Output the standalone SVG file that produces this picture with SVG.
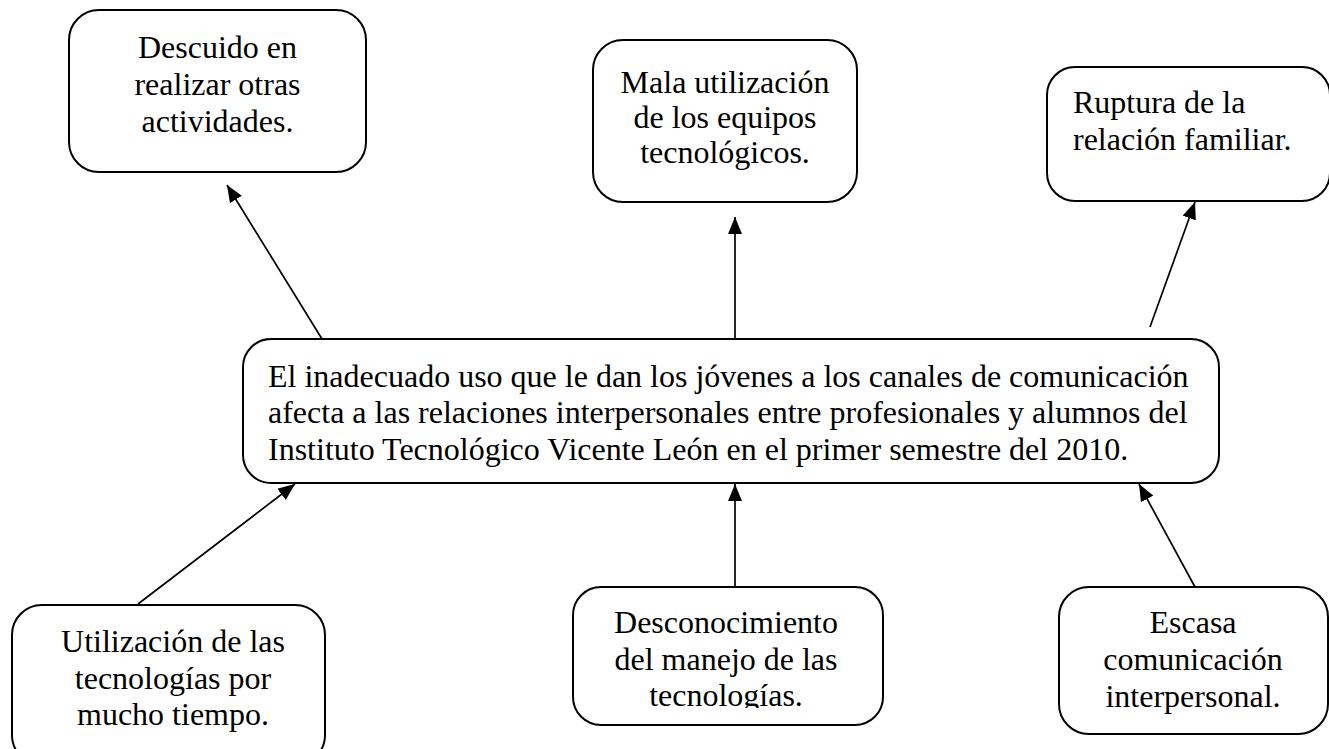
<svg xmlns="http://www.w3.org/2000/svg" width="1329" height="749" viewBox="0 0 1329 749">
<style>
.box{fill:#fff;stroke:#000;stroke-width:2}
.t{font-family:"Liberation Serif","Times New Roman",serif;font-size:32px;fill:#000}
.c{text-anchor:middle}
.con{stroke:#000;stroke-width:1.7;fill:none;marker-end:url(#ah)}
</style>
<defs>
<marker id="ah" viewBox="0 0 17 14" refX="17" refY="7" markerWidth="17" markerHeight="14" orient="auto" markerUnits="userSpaceOnUse">
<path d="M0,0 L17,7 L0,14 z" fill="#000"/>
</marker>
<clipPath id="clipD"><rect x="573" y="587" width="310" height="121"/></clipPath>
</defs>
<rect width="1329" height="749" fill="#fff"/>
<g id="connectors">
<line class="con" x1="322" y1="339" x2="227" y2="185"/>
<line class="con" x1="735" y1="339" x2="735" y2="217"/>
<line class="con" x1="1150" y1="327" x2="1195" y2="202"/>
<line class="con" x1="138" y1="604" x2="295" y2="484"/>
<line class="con" x1="735" y1="587" x2="735" y2="484"/>
<line class="con" x1="1195" y1="587" x2="1139" y2="484"/>
</g>
<g id="node-descuido">
<rect class="box" x="69" y="10" width="297" height="162" rx="30"/>
<text class="t c" x="217.5" y="58">Descuido en</text>
<text class="t c" x="217.5" y="95">realizar otras</text>
<text class="t c" x="217.5" y="132">actividades.</text>
</g>
<g id="node-mala">
<rect class="box" x="593" y="40" width="264" height="162" rx="30"/>
<text class="t c" x="725" y="93">Mala utilización</text>
<text class="t c" x="725" y="128">de los equipos</text>
<text class="t c" x="725" y="163">tecnológicos.</text>
</g>
<g id="node-ruptura">
<rect class="box" x="1047" y="67" width="283" height="134" rx="28"/>
<text class="t" x="1073" y="113">Ruptura de la</text>
<text class="t" x="1073" y="150">relación familiar.</text>
</g>
<g id="node-central">
<rect class="box" x="243" y="339" width="976" height="144" rx="28"/>
<text class="t" x="268" y="386.5">El inadecuado uso que le dan los jóvenes a los canales de comunicación</text>
<text class="t" x="268" y="423">afecta a las relaciones interpersonales entre profesionales y alumnos del</text>
<text class="t" x="268" y="460">Instituto Tecnológico Vicente León en el primer semestre del 2010.</text>
</g>
<g id="node-utilizacion">
<rect class="box" x="12" y="605" width="313" height="160" rx="30"/>
<text class="t c" x="173" y="652">Utilización de las</text>
<text class="t c" x="173" y="688.5">tecnologías por</text>
<text class="t c" x="173" y="725">mucho tiempo.</text>
</g>
<g id="node-desconocimiento">
<rect class="box" x="573" y="587" width="310" height="138" rx="28"/>
<g clip-path="url(#clipD)">
<text class="t c" x="726" y="633">Desconocimiento</text>
<text class="t c" x="726" y="670">del manejo de las</text>
<text class="t c" x="726" y="706">tecnologías.</text>
</g>
</g>
<g id="node-escasa">
<rect class="box" x="1059" y="587" width="269" height="147" rx="30"/>
<text class="t c" x="1193" y="633">Escasa</text>
<text class="t c" x="1193" y="670">comunicación</text>
<text class="t c" x="1193" y="707">interpersonal.</text>
</g>
</svg>
